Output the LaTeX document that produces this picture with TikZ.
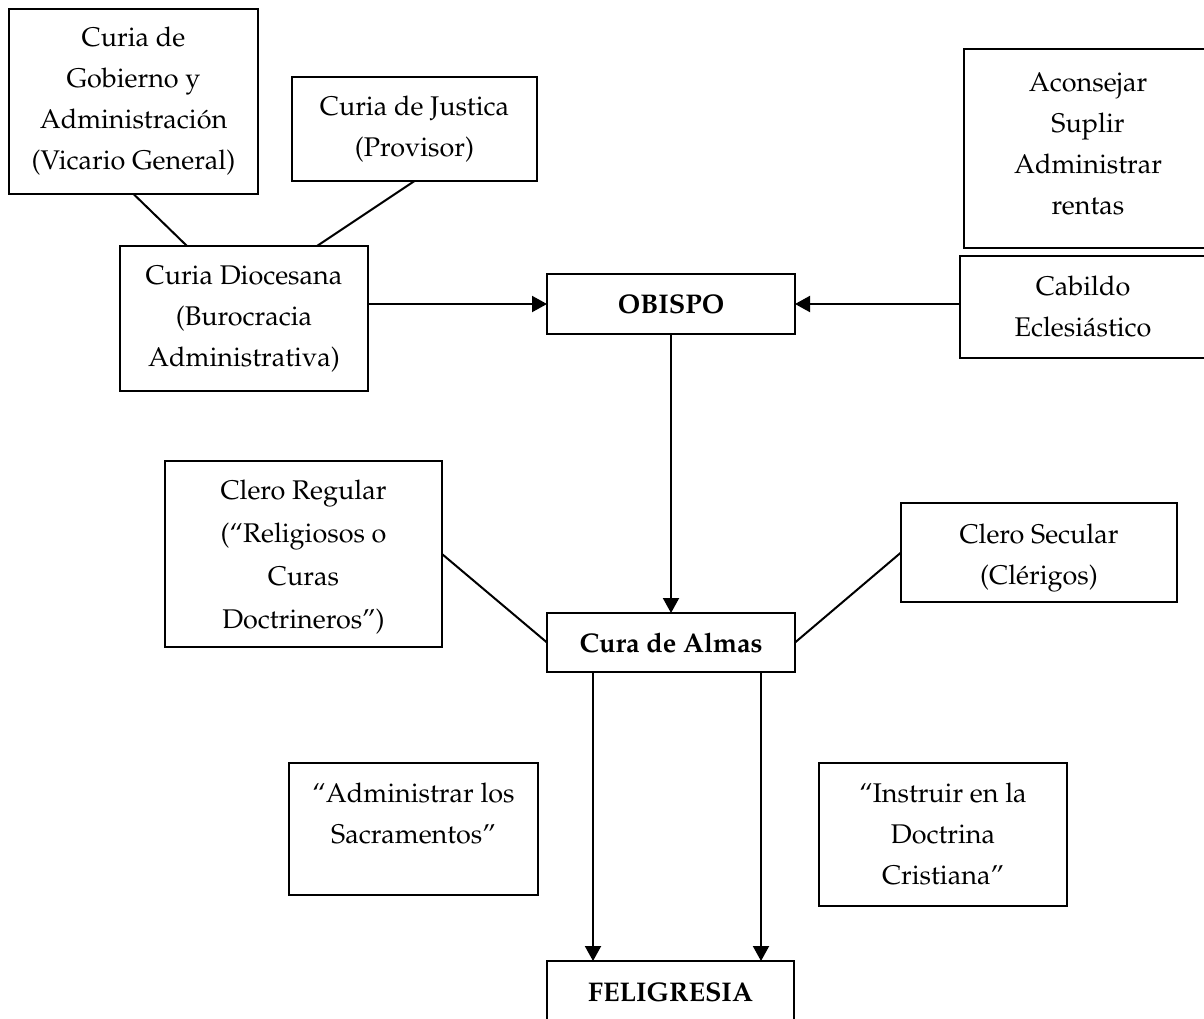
\documentclass[tikz,border=0pt]{standalone}
\usepackage[T1]{fontenc}
\usepackage{mathpazo}
\usetikzlibrary{arrows.meta}
\begin{document}
\begin{tikzpicture}[x=0.5pt,y=-0.5pt,line width=1pt,
    box/.style={draw,rectangle,inner sep=0pt,outer sep=0pt,align=center,font=\fontsize{13.5}{20.5}\selectfont},
    arr/.style={-{Triangle[length=7.5pt,width=8pt]}}]
        \useasboundingbox (0,0) rectangle (1204,1018);
        \node[box,minimum width=124.5pt,minimum height=92.5pt] (gob) at (133.5,101.5) {Curia de\\Gobierno y\\Administraci\'on\\(Vicario General)};
        \node[box,minimum width=122.5pt,minimum height=52pt] (just) at (414.5,129) {Curia de Justica\\(Provisor)};
        \node[box,minimum width=124pt,minimum height=99.5pt] (acons) at (1088,148.5) {Aconsejar\\Suplir\\Administrar\\rentas\\[-16pt]\mbox{}};
        \node[box,minimum width=124pt,minimum height=72.5pt] (dioc) at (244,318.5) {Curia Diocesana\\(Burocracia\\Administrativa)};
        \node[box,minimum width=124pt,minimum height=30pt] (obispo) at (671,304) {\textbf{OBISPO}};
        \node[box,minimum width=123pt,minimum height=51pt] (cab) at (1083,307) {Cabildo\\Eclesi\'astico};
        \node[box,minimum width=138.5pt,minimum height=93pt,font=\fontsize{13.5}{21.5}\selectfont] (reg) at (303.5,554) {\rule{0pt}{13pt}Clero Regular\\(``Religiosos o\\Curas\\Doctrineros'')};
        \node[box,minimum width=138pt,minimum height=49.5pt] (sec) at (1039,552.5) {\rule{0pt}{15.5pt}Clero Secular\\(Cl\'erigos)};
        \node[box,minimum width=124pt,minimum height=29.5pt] (cura) at (671,642.5) {\textbf{Cura de Almas}};
        \node[box,minimum width=124.5pt,minimum height=66pt] (admin) at (413.5,829) {``Administrar los\\Sacramentos''\\[-5pt]\mbox{}};
        \node[box,minimum width=124pt,minimum height=71.5pt] (instr) at (943,834.5) {``Instruir en la\\Doctrina\\Cristiana''};
        \node[box,minimum width=123.5pt,minimum height=31pt] (feli) at (670.5,992) {\textbf{FELIGRESIA}};
        \draw (gob.south) -- ([xshift=33.5pt]dioc.north west);
        \draw (just.south) -- ([xshift=-25.5pt]dioc.north east);
        \draw[arr] (obispo.west -| dioc.east) -- (obispo.west);
        \draw[arr] (obispo.east -| cab.west) -- (obispo.east);
        \draw[arr] (obispo.south) -- (cura.north);
        \draw (reg.east) -- (cura.west);
        \draw (sec.west) -- (cura.east);
        \draw[arr] ([xshift=23pt]cura.south west) -- ([xshift=23pt]feli.north west);
        \draw[arr] ([xshift=-17pt]cura.south east) -- ([xshift=-16.5pt]feli.north east);
\end{tikzpicture}
\end{document}
